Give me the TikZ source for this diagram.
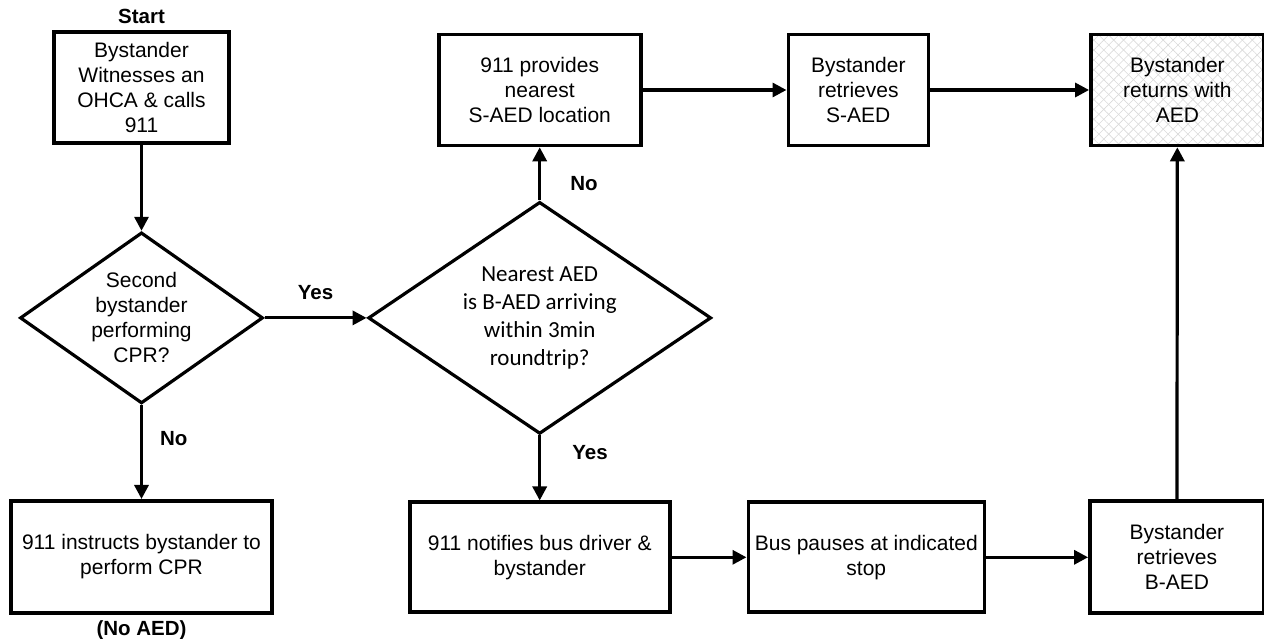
\documentclass[tikz,border=0pt]{standalone}
\usepackage{fontspec}
\setmainfont{Liberation Sans}
\newfontfamily\calibrifont{Carlito}
\usepackage{tikz}
\usetikzlibrary{
  shapes.geometric, arrows.meta, positioning, patterns.meta
}

\begin{document}
\begin{tikzpicture}[
  x=1pt, y=1pt,
  box/.style={
    rectangle, draw=black, line width=3.6pt, align=center,
    minimum height=111pt, inner sep=2pt,
    font=\fontsize{21}{25}\selectfont
  },
  decision/.style={
    diamond, draw=black, line width=3.2pt, align=center, inner sep=0pt,
    font=\fontsize{21}{25}\selectfont
  },
  hatched/.style={
    preaction={pattern={Lines[angle=45,distance=7pt,line width=0.6pt]}, pattern color=black!15},
    preaction={pattern={Lines[angle=-45,distance=7pt,line width=0.6pt]}, pattern color=black!15}
  },
  lbl/.style={inner sep=0pt, font=\bfseries\fontsize{20.5}{24}\selectfont},
  arrow/.style={-{Triangle[length=14pt, width=14pt]}, line width=3.2pt},
]
  \useasboundingbox (0,0) rectangle (1264,639);

  \node[box, minimum width=175pt] (witness) at (141.5,551.5) {Bystander\\Witnesses an\\OHCA \& calls\\911};
  \node[decision, below=86pt of witness, minimum width=243pt, minimum height=171pt, aspect=1.42] (second) {Second\\bystander\\performing\\CPR?};
  \node[box, below=94pt of second, minimum width=261pt, minimum height=112pt] (cpr) {911 instructs bystander to\\perform CPR};
  \node[decision, right=102pt of second, minimum width=343pt, minimum height=232pt, aspect=1.48,
        font=\calibrifont\fontsize{23}{28}\selectfont] (nearest) {Nearest AED\\is B-AED arriving\\within 3min\\roundtrip?};
  \node[box, above=53pt of nearest, minimum width=202pt] (provides) {911 provides\\nearest\\S-AED location};
  \node[box, right=144pt of provides, minimum width=140pt] (sretr) {Bystander\\retrieves\\S-AED};
  \node[box, hatched, right=159pt of sretr, minimum width=173pt] (returns) {Bystander\\returns with\\AED};
  \node[box, below=65pt of nearest, minimum width=260pt, minimum height=110pt] (notifies) {911 notifies bus driver \&\\bystander};
  \node[box, right=75pt of notifies, minimum width=236pt, minimum height=110pt] (bus) {Bus pauses at indicated\\stop};
  \node[box, right=102pt of bus, minimum width=174pt, minimum height=112pt] (bretr) {Bystander\\retrieves\\B-AED};

  \node[lbl, above=6pt of witness] (start) {Start};
  \node[lbl, below=6pt of cpr] (noaed) {(No AED)};

  \draw[arrow] (witness)  -- (second);
  \draw[arrow] (second)   -- node[lbl, above=17pt] (yes1) {Yes} (nearest);
  \draw[arrow] (second)   -- node[lbl, pos=0.36, right=17pt] (no1) {No} (cpr);
  \draw[arrow] (nearest)  -- node[lbl, pos=0.32, right=29pt] (no2) {No} (provides);
  \draw[arrow] (nearest)  -- node[lbl, pos=0.26, right=31pt] (yes2) {Yes} (notifies);
  \draw[arrow] (provides) -- (sretr);
  \draw[arrow] (sretr)    -- (returns);
  \draw[arrow] (notifies) -- (bus);
  \draw[arrow] (bus)      -- (bretr);
  \draw[arrow] (bretr)    -- (returns);
\end{tikzpicture}
\end{document}
